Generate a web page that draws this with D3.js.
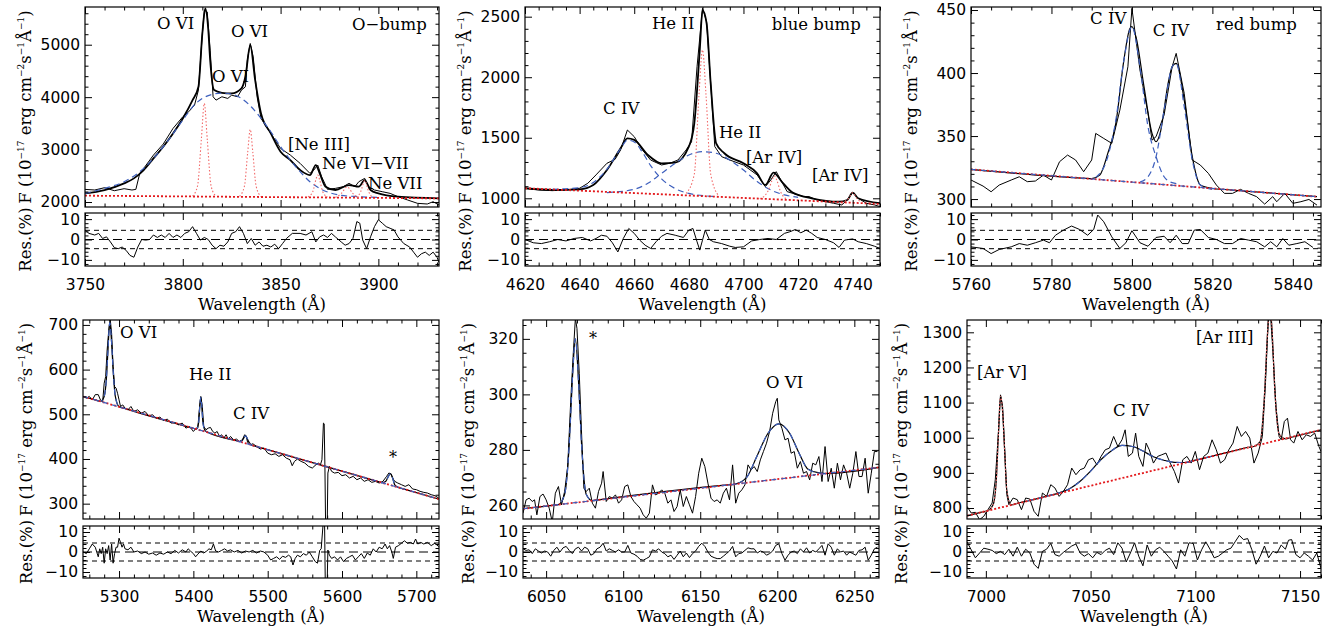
<!DOCTYPE html>
<html>
<head>
<meta charset="utf-8">
<script src="https://cdn.jsdelivr.net/npm/d3@7"></script>
<style>
  body { margin: 0; background: #fff; }
  svg { font-family: "DejaVu Sans", sans-serif; }
  .serif { font-family: "DejaVu Serif", serif; }
</style>
</head>
<body>
<svg id="chart" width="1344" height="635"></svg>
<script>
// ---- panel 1: O-bump ----
const p1Obs = [[3750,2241],[3755,2229],[3760,2273],[3765,2216],[3770,2254],[3774,2229],[3776,2241],[3778,2546],[3780,2641],[3785,2895],[3790,3105],[3795,3403],[3800,3626],[3803,3721],[3806,3848],[3808,4134],[3810,5213],[3811,5658],[3812.5,5626],[3814,4896],[3815.5,4007],[3817,3943],[3820,4007],[3823,3975],[3825,4038],[3828,4007],[3830,4134],[3832,4197],[3833,4705],[3834.5,5023],[3836,4769],[3838,4007],[3840,3594],[3845,3308],[3850,3022],[3855,2895],[3860,2737],[3865,2546],[3867,2610],[3869,2705],[3871,2483],[3874,2241],[3878,2260],[3882,2292],[3885,2356],[3888,2292],[3890,2387],[3893,2451],[3895,2292],[3898,2229],[3902,2197],[3906,2165],[3910,2102],[3915,2038],[3920,1975],[3925,1962],[3928,2006],[3931,1943]];
const p1Fit = [[3750,2165],[3760,2229],[3770,2356],[3775,2451],[3780,2610],[3785,2832],[3790,3054],[3795,3308],[3800,3594],[3805,3943],[3808,4197],[3810,5213],[3811.5,5690],[3813,5300],[3814,4705],[3816,4134],[3820,4083],[3825,4070],[3830,4165],[3832,4388],[3834.5,4990],[3837,4324],[3840,3689],[3845,3308],[3850,2959],[3855,2800],[3860,2610],[3865,2514],[3868,2705],[3870,2546],[3873,2292],[3878,2229],[3885,2324],[3890,2292],[3893,2419],[3896,2229],[3900,2165],[3910,2102],[3931,2070]];
const p1Broad = [[3750,2165],[3760,2260],[3770,2387],[3780,2641],[3790,3054],[3800,3562],[3805,3816],[3810,3975],[3815,4051],[3820,4076],[3825,4057],[3830,3975],[3835,3816],[3840,3594],[3845,3340],[3850,3054],[3855,2800],[3860,2578],[3865,2387],[3870,2260],[3875,2178],[3880,2133],[3890,2102],[3900,2089]];
const p1Cont = [[3750,2121],[3931,2070]];
const p1Narrow1 = [[3805,2115],[3807.5,2300],[3809.5,3200],[3811,3880],[3812.5,3200],[3814.5,2300],[3817,2110]];
const p1Narrow2 = [[3829,2110],[3831.5,2300],[3833.2,2950],[3834.5,3384],[3835.8,2950],[3837.5,2300],[3840,2105]];
const p1Narrow3 = [[3864,2095],[3866.5,2200],[3868,2420],[3869,2514],[3870,2420],[3871.5,2200],[3874,2093]];
const p1Narrow4 = [[3878,2087],[3881,2160],[3884,2290],[3887,2160],[3890,2082]];
const p1Narrow5 = [[3889,2083],[3891,2200],[3893,2410],[3895,2200],[3897,2080]];
const p1Res = [[3750,4.7],[3752,3],[3755,2.2],[3757,3],[3759,0.5],[3761,1.3],[3763,-1.2],[3765,-4],[3767,-4.5],[3769,-3.7],[3771,-5.3],[3773,-7.8],[3775,-8.7],[3777,-3.7],[3779,0],[3781,-0.3],[3783,0],[3785,2.2],[3787,1],[3789,2.2],[3791,1],[3793,3],[3795,1],[3797,2.2],[3799,1],[3801,3],[3803,3.8],[3805,6.3],[3807,3],[3809,-0.3],[3811,1],[3813,0],[3815,-2.8],[3817,-4.5],[3819,-2.8],[3821,-3.3],[3823,-1.2],[3825,3],[3827,3.8],[3829,6.3],[3831,3],[3833,-2],[3835,0.5],[3837,-2.8],[3839,-1.2],[3841,-3.3],[3843,-2.8],[3845,-3.7],[3847,-2.3],[3849,-4.5],[3851,-2],[3853,0.5],[3856,3],[3860,3],[3863,2.2],[3866,3.8],[3868,-1.2],[3870,1.3],[3872,2.2],[3874,1],[3876,3],[3878,1.3],[3881,-1.2],[3883,-2.8],[3885,-2],[3887,0.5],[3889,8.8],[3890.5,8],[3892,-0.3],[3894,-4.5],[3896,1.3],[3898,6.3],[3900,9.7],[3902,8],[3904,6.3],[3906,5.5],[3908,4.7],[3910,1.3],[3913,-2],[3916,-3.7],[3918,-6.2],[3920,-8.7],[3922,-7],[3924,-6.2],[3926,-7.8],[3928,-6.2],[3930,-8.7],[3931,-11.2]];
const p1XTicks = [3750, 3800, 3850, 3900];
const p1YTicks = [2000, 3000, 4000, 5000];
const p1Labels = [["O VI",3786.8,5294],["O VI",3824.6,5142],["O VI",3814.9,4290],["O\u2212bump",3886.5,5275],["[Ne III]",3853.8,2990],["Ne VI\u2212VII",3871.2,2630],["Ne VII",3894.7,2248]];

// ---- panel 2: blue bump ----
const p2Obs = [[4620,1083],[4625,1069],[4630,1063],[4635,1069],[4640,1083],[4643,1124],[4646,1193],[4650,1289],[4653,1322],[4655,1399],[4657.5,1564],[4660,1509],[4663,1399],[4666,1316],[4670,1275],[4673,1289],[4676,1316],[4679,1399],[4681,1468],[4683,2087],[4684.5,2445],[4685,2569],[4686.5,2459],[4688,1949],[4689.5,1427],[4692,1344],[4695,1316],[4700,1275],[4705,1193],[4708,1096],[4710,1151],[4712,1220],[4714,1138],[4716,1055],[4718,1041],[4720,1028],[4722,1014],[4724,1014],[4727,986],[4730,972],[4733,959],[4736,945],[4738,986],[4740,1047],[4742,1000],[4745,959],[4748,945],[4750,931]];
const p2Fit = [[4620,1083],[4630,1069],[4640,1074],[4645,1110],[4650,1234],[4655,1413],[4657.5,1495],[4660,1482],[4665,1358],[4670,1289],[4675,1294],[4680,1427],[4682,1619],[4684,2225],[4685,2555],[4686.5,2445],[4688,1949],[4690,1454],[4693,1372],[4700,1289],[4705,1206],[4708,1110],[4711,1212],[4714,1138],[4718,1047],[4725,1000],[4735,972],[4738,986],[4740,1047],[4742,1000],[4750,959]];
const p2BroadCIV = [[4630,1074],[4640,1088],[4645,1130],[4650,1240],[4655,1410],[4657.5,1480],[4660,1465],[4663,1380],[4666,1270],[4670,1160],[4675,1080],[4680,1040],[4690,1014]];
const p2BroadHeII = [[4650,1047],[4660,1074],[4665,1124],[4670,1206],[4675,1289],[4680,1358],[4685,1385],[4690,1372],[4695,1316],[4700,1234],[4705,1138],[4710,1069],[4715,1028],[4720,1008]];
const p2Cont = [[4620,1083],[4750,953]];
const p2Narrow1 = [[4679,1040],[4682,1200],[4683.7,1850],[4685,2225],[4686.3,1850],[4688,1200],[4691,1018]];
const p2Narrow2 = [[4706,995],[4709,1060],[4710.5,1150],[4711.3,1185],[4712.2,1150],[4713.5,1060],[4716,990]];
const p2Narrow3 = [[4736,962],[4738.5,1000],[4740,1045],[4741.5,1000],[4744,957]];
const p2Res = [[4620,0],[4623,-1.6],[4626,-2],[4629,-1.1],[4632,0],[4635,-0.7],[4638,0.5],[4641,1],[4644,-0.7],[4646,0.5],[4648,2.1],[4650,1.6],[4652,-1.6],[4654,-6.1],[4656,0.5],[4658,5.4],[4660,3],[4662,-0.3],[4664,-2.8],[4666,-4.4],[4668,-1.1],[4670,1.6],[4672,3],[4675,2.1],[4678,1],[4680,4.6],[4681.5,5.4],[4683,-1.1],[4684,-5.2],[4685,-0.3],[4686,4.6],[4687.5,0],[4689,-1.1],[4692,-2],[4695,-3.3],[4697,-3.9],[4700,-3.6],[4703,-0.7],[4706,0],[4709,0.5],[4712,0],[4715,3],[4717,3.8],[4719,4.9],[4721,3.3],[4723,4.6],[4725,3],[4727,1],[4730,0],[4733,-1.6],[4735,-3.9],[4737,-0.3],[4740,0.3],[4742,-1.1],[4745,-2],[4748,-3.3],[4750,-4.4]];
const p2XTicks = [4620, 4640, 4660, 4680, 4700, 4720, 4740];
const p2YTicks = [1000, 1500, 2000, 2500];
const p2Labels = [["He II",4666.5,2398],["blue bump",4710.4,2390],["C IV",4648.6,1696],["He II",4691,1498],["[Ar IV]",4700.9,1291],["[Ar IV]",4725.1,1143]];

// ---- panel 3: red bump ----
const p3Obs = [[5760,315.1],[5763,310.3],[5765,305.8],[5767,311.1],[5770,315.1],[5772,317.7],[5774,313.8],[5776,314.3],[5778,319],[5780,315.1],[5782,329.6],[5784,334.9],[5786,331],[5788,321.7],[5790,331],[5791,352.1],[5793,348.1],[5795,344.2],[5797,370.6],[5799,405],[5800,451.3],[5802,402.4],[5804,368],[5805,346.8],[5806,349.5],[5808,366.7],[5810,405],[5811,415.6],[5813,383.9],[5815,331],[5817,327],[5819,320.4],[5821,311.1],[5823,304.5],[5825,304.5],[5827,307.7],[5829,304.5],[5831,301.9],[5833,296],[5835,301.9],[5836,297.9],[5838,304.5],[5840,296.6],[5842,297.9],[5844,299.7],[5846,295.2]];
const p3Fit = [[5760,323.5],[5788,316.5],[5790,316.2],[5792,319],[5794,336.2],[5796,360],[5798,410.3],[5799.5,435.4],[5800,436.8],[5801,428.8],[5803,389.2],[5805,352.1],[5806,345.5],[5807,352.1],[5809,391.8],[5810,405],[5811,407.7],[5813,378.6],[5815,333.6],[5817,311.1],[5820,308.4],[5823,307.6],[5846,301.9]];
const p3Broad1 = [[5791,317.2],[5794,333.6],[5796,362.7],[5798,410.3],[5800,436.8],[5802,405],[5804,357.4],[5806,333.6],[5808,317.7],[5810,313],[5812,311.9]];
const p3Broad2 = [[5802,313.5],[5804,317.7],[5806,333.6],[5808,370.6],[5810,405],[5811,407.7],[5813,373.3],[5815,331],[5817,311.1],[5820,307.7]];
const p3Cont = [[5760,323.5],[5846,301.9]];
const p3Res = [[5760,-3.6],[5763,-4.4],[5765,-6.9],[5767,-4.9],[5770,-3.6],[5772,-2],[5774,-2.8],[5776,-1.6],[5778,-0.3],[5779.5,-1.6],[5781,2.1],[5783,4.6],[5785,6.6],[5787,4.9],[5789,2.1],[5790.5,4.9],[5791.5,12],[5793,8.7],[5795,1.3],[5797,-4.4],[5798.5,-1.6],[5800,4.3],[5802,-1.6],[5804,-3.3],[5806,1],[5808,1.6],[5809.5,-1.6],[5811,2.1],[5812.5,-2],[5814,-2],[5815.5,4.6],[5817,4.9],[5819,1],[5821,0],[5823,-2],[5825,-2],[5827,0.5],[5829,-0.3],[5831,-1.1],[5833,-3.6],[5834.5,-1.1],[5836,-3.6],[5837.5,0.5],[5839,-2.8],[5841,-2],[5843,-1.1],[5845,-3.9]];
const p3XTicks = [5760, 5780, 5800, 5820, 5840];
const p3YTicks = [300, 350, 400, 450];
const p3Labels = [["C IV",5789.6,438.9],["C IV",5805.2,429.4],["red bump",5820.9,434.2]];

// ---- panel 4 ----
const p4Obs = [[5252,540],[5256,536],[5260,540],[5264,532],[5268,544],[5272,544],[5275,532],[5278,528.7],[5280,569.6],[5282,584.5],[5284,644],[5286,685],[5288,715],[5290,681],[5292,607],[5294,562],[5296,558.5],[5298,547],[5300,532.4],[5302,517.5],[5305,521],[5308,513.8],[5312,510],[5316,517.5],[5320,506.3],[5325,510],[5330,502.6],[5335,506.3],[5340,496.6],[5345,498.9],[5350,491.4],[5355,493.7],[5360,486.2],[5365,489.2],[5370,480.3],[5375,481.8],[5380,476.5],[5385,480.3],[5390,469.1],[5395,472.8],[5400,461.6],[5404,469.1],[5406,469.1],[5408,510],[5410,539.8],[5412,517.5],[5414,472.8],[5417,465.4],[5420,469.1],[5423,470.6],[5426,461.6],[5429,457.9],[5432,461.6],[5435,450.5],[5438,454.2],[5441,446.7],[5444,454.2],[5447,444.5],[5450,450.5],[5454,443],[5458,444.5],[5462,439.3],[5466,443],[5469,454.2],[5471,451.9],[5473,437],[5477,431.8],[5480,434.1],[5485,428.1],[5490,422.2],[5495,424.5],[5500,413.2],[5505,409.5],[5510,411.7],[5515,405.8],[5520,409.5],[5525,402],[5530,398.3],[5533,384.9],[5536,394.6],[5540,399.8],[5545,394.6],[5550,390.9],[5555,383.4],[5560,379.7],[5565,387.2],[5568,390.9],[5571,387.2],[5573,398.3],[5575,480.3],[5576,478.8],[5577,383.4],[5578,240],[5580,240],[5581,368.5],[5583,383.4],[5586,372.3],[5590,368.5],[5595,370],[5600,362.6],[5605,364.8],[5610,357.4],[5615,361.1],[5620,353.6],[5625,357.4],[5630,349.9],[5635,353.6],[5640,347.7],[5645,349.9],[5650,346.2],[5655,349.9],[5660,361.1],[5663,368.5],[5666,367],[5668,357.4],[5671,349.9],[5675,346.2],[5680,342.5],[5685,338.7],[5690,342.5],[5695,332.8],[5700,331.3],[5705,327.6],[5710,325.3],[5715,323.8],[5720,320.1],[5725,317.9],[5730,312.7]];
const p4Fit = [[5252,539.8],[5271,530.7],[5275,528.8],[5280,540],[5283,580],[5285,640],[5287.5,705],[5290,660],[5292,600],[5295,540],[5300,517],[5304,514.8],[5400,468.8],[5404,467],[5407,480],[5409,525],[5410,538],[5411,525],[5413,480],[5416,463],[5420,459.2],[5458,440.9],[5462,439],[5466,442],[5468.5,449],[5470,452],[5471.5,449],[5474,440],[5478,431.3],[5482,429.4],[5650,348.8],[5654,346.9],[5659,350],[5662,360],[5665,367],[5668,358],[5671,342],[5676,336.3],[5680,334.4],[5730,310.4]];
const p4Comp1 = [[5271,530.7],[5275,528.8],[5280,540],[5283,580],[5285,640],[5287.5,705],[5290,660],[5292,600],[5295,540],[5300,517],[5304,514.8]];
const p4Comp2 = [[5400,468.8],[5404,467],[5407,480],[5409,525],[5410,538],[5411,525],[5413,480],[5416,463],[5420,459.2]];
const p4Comp3 = [[5458,440.9],[5462,439],[5466,442],[5468.5,449],[5470,452],[5471.5,449],[5474,440],[5478,431.3],[5482,429.4]];
const p4Comp4 = [[5650,348.8],[5654,346.9],[5659,350],[5662,360],[5665,367],[5668,358],[5671,342],[5676,336.3],[5680,334.4]];
const p4Cont = [[5252,539.8],[5730,310.4]];
const p4Res = [[5252,0],[5256,-0.8],[5260,1.6],[5264,4],[5268,2.4],[5272,-2.4],[5274,1.6],[5276,-0.8],[5278,2.4],[5280,-5.6],[5282,1.6],[5284,-0.8],[5286,3.2],[5288,-4],[5290,4],[5292,-5.6],[5294,-0.8],[5296,2.4],[5298,2.4],[5300,6.9],[5302,4.8],[5304,2.4],[5306,4],[5308,1.6],[5312,1.1],[5316,2.4],[5320,0],[5325,0.5],[5330,-0.8],[5335,0],[5340,-1.1],[5345,-0.5],[5350,-1.6],[5355,-0.5],[5360,-1.1],[5365,0],[5370,-0.8],[5375,0.8],[5380,-0.5],[5385,1.1],[5390,0],[5393,1.6],[5396,0.5],[5400,-0.8],[5403,-2.4],[5406,-1.1],[5410,0.5],[5414,-0.5],[5418,0.5],[5421,1.6],[5424,1.1],[5427,4],[5430,0.5],[5434,0],[5438,0.8],[5442,1.6],[5446,0.5],[5450,1.1],[5455,0],[5460,0.8],[5465,-0.5],[5470,0.5],[5475,0],[5480,0.8],[5485,-0.5],[5490,0.5],[5495,0],[5500,-1.6],[5504,-4],[5508,-3.2],[5512,-2.4],[5516,-3.7],[5520,-2.1],[5524,-2.7],[5528,-1.6],[5531,-2.4],[5534,-6.5],[5537,-3.2],[5540,-1.6],[5544,-2.4],[5548,-0.8],[5552,-1.6],[5556,0],[5560,-2.4],[5564,-4.8],[5567,-5.6],[5570,0.8],[5572,1.6],[5575,16],[5576.5,16],[5577.5,-16],[5580,-16],[5581,1],[5583,-1.6],[5586,-3.2],[5590,-2.4],[5594,-4],[5598,-2.4],[5602,-4.8],[5606,-3.2],[5610,-2.4],[5614,-1.6],[5618,-4],[5622,-2.4],[5626,-0.8],[5630,-3.2],[5634,-0.5],[5638,-1.6],[5642,1.6],[5646,0],[5650,2.4],[5654,1.6],[5658,4],[5661,1.6],[5664,3.2],[5667,0],[5669,-3.2],[5672,2.4],[5676,3.2],[5680,4.4],[5684,5.6],[5688,4.4],[5692,4.8],[5696,4],[5699,6.5],[5702,4],[5706,4.8],[5710,4],[5715,4.8],[5720,3.2],[5725,4.4],[5730,2.7]];
const p4XTicks = [5300, 5400, 5500, 5600, 5700];
const p4YTicks = [300, 400, 500, 600, 700];
const p4Labels = [["O VI",5301.3,670.7],["He II",5394.1,576.7],["C IV",5453.3,489.5]];
const p4Stars = [[5668.6,392]];

// ---- panel 5 ----
const p5Obs = [[6035,257.2],[6037,262],[6039,262.6],[6041,261.4],[6042.5,262],[6044,256.6],[6046,263.2],[6048,264.1],[6050,262],[6052,259],[6054,254],[6056,264.4],[6058,266.8],[6060,260.2],[6062,265],[6064,274],[6066,298],[6067.5,313.6],[6069,327.5],[6070,323.8],[6071.5,307.6],[6073,286],[6074.5,266.2],[6076,265],[6078,266.2],[6080,260.8],[6082,259],[6084,265],[6086,268],[6087,272.2],[6089,261.4],[6091,263.2],[6093,262.6],[6095,263.8],[6097,260.8],[6099,262],[6101,266.8],[6103,267.4],[6105,263.2],[6107,261.4],[6109,260.2],[6111,259],[6113,256.6],[6115,255.4],[6117,257.2],[6119,267.4],[6121,263.8],[6123,264.4],[6125,265.6],[6127,264.4],[6129,260.8],[6131,262],[6133,257.8],[6135,259.6],[6137,265.6],[6139,259.6],[6141,263.2],[6143,260.2],[6145,257.2],[6147,263.2],[6149,271.6],[6151,277],[6153,274],[6155,268],[6157,262.6],[6159,261.4],[6161,262],[6163,260.8],[6165,264.4],[6167,266.2],[6169,262],[6171,274.6],[6173,260.8],[6175,264.4],[6177,265.6],[6179,267.4],[6181,274.6],[6183,272.8],[6185,274],[6187,272.2],[6189,276.4],[6191,279.4],[6193,282.4],[6195,286.6],[6197,293.2],[6199,297.4],[6200,298.6],[6201,290.8],[6203,287.8],[6205,283.6],[6207,284.2],[6209,278.8],[6211,279.4],[6213,273.4],[6215,275.8],[6217,271.6],[6219,272.2],[6221,269.2],[6223,275.2],[6225,274.6],[6227,277.6],[6229,268.6],[6231,281.2],[6233,268.6],[6235,273.4],[6237,266.2],[6239,275.2],[6241,269.2],[6243,274.6],[6245,271.6],[6247,266.2],[6249,271.6],[6251,279.4],[6253,270.4],[6255,270.4],[6257,277],[6259,264.4],[6261,271.6],[6263,279.4],[6265,279.4]];
const p5Fit = [[6035,258.8],[6054,260],[6058,260.3],[6062,264],[6065,282],[6067,305],[6069,320],[6071,305],[6073,282],[6076,264],[6080,261.7],[6084,262],[6168,267.4],[6172,267.6],[6180,270],[6187,278],[6194,286],[6201,289.4],[6208,286],[6214,279],[6220,273],[6228,271.6],[6232,271.5],[6266,273.7]];
const p5Comp1 = [[6054,260],[6058,260.3],[6062,264],[6065,282],[6067,305],[6069,320],[6071,305],[6073,282],[6076,264],[6080,261.7],[6084,262]];
const p5Comp2 = [[6168,267.4],[6172,267.6],[6180,270],[6187,278],[6194,286],[6201,289.4],[6208,286],[6214,279],[6220,273],[6228,271.6],[6232,271.5]];
const p5Cont = [[6035,258.8],[6266,273.7]];
const p5Res = [[6035,1.6],[6037,0.8],[6039,1.1],[6041,-0.8],[6043,1.6],[6045,0.5],[6047,-0.5],[6049,0.5],[6051,0],[6053,-2.1],[6055,0.8],[6057,2.4],[6059,0],[6061,2.1],[6063,2.8],[6065,0.8],[6067,-0.8],[6069,1.6],[6071,2.4],[6073,0.5],[6075,2.4],[6077,1.6],[6079,-1.6],[6081,-0.8],[6083,1.6],[6085,2.4],[6087,4.4],[6089,0.5],[6091,1.6],[6093,0.8],[6095,0],[6097,1.1],[6099,0],[6101,0],[6103,3.3],[6105,-0.5],[6107,-1.1],[6109,-2.1],[6111,-3.7],[6113,-4.1],[6115,-3.3],[6117,-2.4],[6119,1.1],[6121,0.5],[6123,1.6],[6125,0],[6127,-0.8],[6129,-2.4],[6131,-1.6],[6133,-3.7],[6135,-1.6],[6137,0.5],[6139,-2.4],[6141,-0.5],[6143,-2.8],[6145,-0.8],[6147,0.5],[6149,2.8],[6151,4.4],[6153,2.8],[6155,0],[6157,-2.1],[6159,-2.8],[6161,-3.3],[6163,-3.3],[6165,-2.1],[6167,-0.8],[6169,0.5],[6171,2.8],[6173,-2.4],[6175,-0.8],[6177,-0.5],[6179,0.8],[6181,2.1],[6183,1.6],[6185,1.6],[6187,-0.5],[6189,0.5],[6191,0],[6193,-1.6],[6195,-0.8],[6197,0.5],[6199,3.3],[6201,4.1],[6203,-0.8],[6205,-4.1],[6207,-1.6],[6209,0],[6211,0.5],[6213,-0.8],[6215,1.6],[6217,0],[6219,2.1],[6221,-0.5],[6223,0.8],[6225,0],[6227,1.6],[6229,3.3],[6231,-1.6],[6233,4.1],[6235,2.4],[6237,-1.6],[6239,1.6],[6241,0],[6243,0.5],[6245,-1.6],[6247,0],[6249,-0.8],[6251,-1.6],[6253,0.8],[6255,1.1],[6257,2.4],[6259,-4.1],[6261,-1.6],[6263,1.6],[6265,2.4]];
const p5XTicks = [6050, 6100, 6150, 6200, 6250];
const p5YTicks = [260, 280, 300, 320];
const p5Labels = [["O VI",6192.7,302.2]];
const p5Stars = [[6080.4,318.2]];

// ---- panel 6 ----
const p6Obs = [[6991,804.7],[6993,785.8],[6995,787.7],[6997,766.9],[6999,776.3],[7001,795.3],[7003,814.2],[7004.5,880.5],[7006,1013],[7007,1122],[7008,1088.8],[7009,965.7],[7010,837.9],[7011,809.5],[7013,828.4],[7015,823.7],[7017,795.3],[7019,828.4],[7021,825.6],[7023,790.5],[7025,776.3],[7027,842.6],[7029,833.1],[7031,866.3],[7033,856.8],[7035,833.1],[7037,847.3],[7039,866.3],[7041,913.6],[7043,894.7],[7045,908.9],[7047,913.6],[7049,937.3],[7051,942],[7053,923.1],[7055,946.8],[7057,965.7],[7059,970.5],[7061,1003.6],[7063,975.2],[7065,994.1],[7066.5,1022.5],[7068,946.8],[7070,956.3],[7071.5,1013],[7073,946.8],[7075,918.4],[7076.5,984.7],[7078,965.7],[7080,927.8],[7082,946.8],[7084,951.5],[7086,956.3],[7088,927.8],[7090,904.2],[7092,871],[7094,937.3],[7096,946.8],[7098,927.8],[7100,961],[7102,908.9],[7104,946.8],[7106,956.3],[7108,994.1],[7110,965.7],[7112,927.8],[7114,937.3],[7116,965.7],[7118,984.7],[7120,1032],[7122,1003.6],[7124,1017.8],[7126,998.9],[7128,927.8],[7130,956.3],[7132,1003.6],[7133.5,1155],[7135,1360],[7136,1340],[7137,1249.8],[7138.5,1088.8],[7140,1003.6],[7141,994.1],[7142.5,1046.2],[7144,1055.7],[7145.5,994.1],[7147,984.7],[7149,1017.8],[7151,994.1],[7153,1008.3],[7155,1003.6],[7157,1013],[7159,975.2],[7160,961]];
const p6Fit = [[6991,778],[6998,788.1],[7001,792.5],[7003.5,810],[7005,880],[7006,1010],[7007,1118],[7008,1075],[7009,960],[7010,850],[7012,809],[7016,815],[7020,820],[7030,835],[7035,843],[7040,855],[7045,876],[7050,905],[7055,938],[7060,963],[7065,978],[7070,975],[7075,962],[7080,946],[7085,936],[7090,930],[7095,929.5],[7100,936],[7110,950.5],[7120,965],[7125,972.3],[7128,975],[7131,990],[7133,1120],[7134.5,1300],[7135.5,1370],[7136.5,1320],[7138,1130],[7140,1010],[7143,997],[7146,1001.4],[7160,1022.5]];
const p6BroadCIV = [[7020,820],[7030,835],[7035,843],[7040,855],[7045,876],[7050,905],[7055,938],[7060,963],[7065,978],[7070,975],[7075,962],[7080,946],[7085,936],[7090,930],[7095,929.5],[7100,936],[7110,950.5]];
const p6Narrow1 = [[6998,788.1],[7001,792.5],[7003.5,810],[7005,880],[7006,1010],[7007,1118],[7008,1075],[7009,960],[7010,850],[7012,809],[7016,815]];
const p6Narrow2 = [[7125,972.3],[7128,975],[7131,990],[7133,1120],[7134.5,1300],[7135.5,1370],[7136.5,1320],[7138,1130],[7140,1010],[7143,997],[7146,1001.4]];
const p6Cont = [[6991,778],[7160,1022.5]];
const p6Res = [[6991,5.1],[6993,1.1],[6995,-2.9],[6997,-0.5],[6999,1.9],[7001,1.4],[7003,0.8],[7005,-0.8],[7007,0.3],[7009,-1.3],[7011,1.4],[7013,-2.1],[7015,2.4],[7017,-2.1],[7019,1.4],[7021,-0.5],[7023,-6.1],[7025,-8.2],[7027,0.3],[7029,1.4],[7031,4.3],[7033,-1.3],[7035,-2.1],[7037,-0.2],[7039,1.4],[7041,3],[7043,4],[7045,-0.5],[7047,-2.1],[7049,-0.8],[7051,-2.9],[7053,-0.2],[7055,-1.3],[7057,0.8],[7059,1.9],[7061,-1.3],[7063,4.6],[7065,1.9],[7067,-5],[7069,-0.5],[7071,4.6],[7073,-2.1],[7075,-6.9],[7077,3.5],[7079,-2.1],[7081,1.1],[7083,2.4],[7085,0.3],[7087,-2.1],[7089,-4.5],[7091,-8.5],[7093,1.1],[7095,-2.1],[7097,4.6],[7099,4.3],[7101,-4],[7103,1.1],[7105,5.1],[7107,1.4],[7109,-2.9],[7111,-2.1],[7113,-0.5],[7115,1.1],[7117,1.9],[7119,5.1],[7121,8.3],[7123,6.2],[7125,6.7],[7127,1.1],[7129,-6.1],[7131,-2.1],[7133,3],[7135,-2.9],[7137,0.3],[7139,-0.5],[7141,3.5],[7143,1.4],[7144.5,5.9],[7146,6.2],[7148,-1.3],[7150,-2.9],[7152,-0.5],[7154,-2.1],[7156,-4],[7158,-0.5],[7160,-8.2]];
const p6XTicks = [7000, 7050, 7100, 7150];
const p6YTicks = [800, 900, 1000, 1100, 1200, 1300];
const p6Labels = [["[Ar V]",6995.8,1170],["C IV",7060.7,1061.8],["[Ar III]",7100.3,1269.5]];

// residual panels (shared)
const resTicks = [-10, 0, 10];
const resLevels = [-4.5, 0, 4.5];

const BLUE = "#3d5fbd", RED = "#e3191c", PINK = "#f26b6b";

const panels = [
  { obs: p1Obs, fit: p1Fit, broad: [p1Broad], cont: p1Cont, contBlue: false, narrow: [p1Narrow1, p1Narrow2, p1Narrow3, p1Narrow4, p1Narrow5], res: p1Res,
    xTicks: p1XTicks, yTicks: p1YTicks, labels: p1Labels, stars: [], xDom: [3750, 3931], yDom: [1905, 5719], xMinor: 10, yMinor: 200,
    x0: 85, x1: 439, top: 7, bot: 207, rTop: 213, rBot: 266, labX: 31, fitW: 1.8 },
  { obs: p2Obs, fit: p2Fit, broad: [p2BroadCIV, p2BroadHeII], cont: p2Cont, contBlue: false, narrow: [p2Narrow1, p2Narrow2, p2Narrow3], res: p2Res,
    xTicks: p2XTicks, yTicks: p2YTicks, labels: p2Labels, stars: [], xDom: [4620, 4750], yDom: [928, 2580], xMinor: 5, yMinor: 100,
    x0: 525, x1: 880, top: 7, bot: 207, rTop: 213, rBot: 266, labX: 471, fitW: 1.8 },
  { obs: p3Obs, fit: p3Fit, broad: [p3Broad1, p3Broad2], cont: p3Cont, contBlue: true, narrow: [], res: p3Res,
    xTicks: p3XTicks, yTicks: p3YTicks, labels: p3Labels, stars: [], xDom: [5760, 5847], yDom: [293.7, 452.4], xMinor: 5, yMinor: 10,
    x0: 971, x1: 1321, top: 7, bot: 207, rTop: 213, rBot: 266, labX: 917, fitW: 1.2 },
  { obs: p4Obs, fit: p4Fit, broad: [p4Comp1, p4Comp2, p4Comp3, p4Comp4], cont: p4Cont, contBlue: true, narrow: [], res: p4Res,
    xTicks: p4XTicks, yTicks: p4YTicks, labels: p4Labels, stars: p4Stars, xDom: [5251.5, 5730.5], yDom: [265.7, 711], xMinor: 20, yMinor: 20,
    x0: 83, x1: 439, top: 320, bot: 519, rTop: 526, rBot: 578, labX: 32, fitW: 1.2 },
  { obs: p5Obs, fit: p5Fit, broad: [p5Comp1, p5Comp2], cont: p5Cont, contBlue: true, narrow: [], res: p5Res,
    xTicks: p5XTicks, yTicks: p5YTicks, labels: p5Labels, stars: p5Stars, xDom: [6035, 6266], yDom: [255.1, 326.8], xMinor: 10, yMinor: 5,
    x0: 523, x1: 879, top: 320, bot: 519, rTop: 526, rBot: 578, labX: 474, fitW: 1.2 },
  { obs: p6Obs, fit: p6Fit, broad: [p6BroadCIV], cont: p6Cont, contBlue: false, narrow: [p6Narrow1, p6Narrow2], res: p6Res,
    xTicks: p6XTicks, yTicks: p6YTicks, labels: p6Labels, stars: [], xDom: [6991, 7160], yDom: [768.7, 1335], xMinor: 10, yMinor: 20,
    x0: 967, x1: 1321, top: 320, bot: 519, rTop: 526, rBot: 578, labX: 907, fitW: 1.2 }
];

const svg = d3.select("#chart");
const defs = svg.append("defs");

function minorValues(dom, step, major) {
  const lo = Math.min(dom[0], dom[1]), hi = Math.max(dom[0], dom[1]);
  return d3.range(Math.ceil(lo / step) * step, hi + 1e-9, step)
    .filter(v => !major.some(m => Math.abs(m - v) < 1e-6));
}

// IDL-like frame: inward ticks on all four sides
function frame(g, x, y, xMajor, xMinor, yMajor, yMinor, x0, x1, top, bot, showX, yFmt) {
  const fix = sel => sel.call(s => s.select(".domain").remove())
    .attr("font-family", null).attr("font-size", 15.5);
  const yMin = minorValues(y.domain(), yMinor, yMajor);
  const xMin = minorValues(x.domain(), xMinor, xMajor);
  const fg = g.append("g");

  fg.append("g").attr("transform", `translate(${x0},0)`)
    .call(d3.axisLeft(y).tickValues(yMajor).tickSize(-7).tickPadding(5).tickFormat(yFmt)).call(fix);
  fg.append("g").attr("transform", `translate(${x0},0)`)
    .call(d3.axisLeft(y).tickValues(yMin).tickSize(-3.5).tickFormat("")).call(fix);
  fg.append("g").attr("transform", `translate(${x1},0)`)
    .call(d3.axisRight(y).tickValues(yMajor).tickSize(-7).tickFormat("")).call(fix);
  fg.append("g").attr("transform", `translate(${x1},0)`)
    .call(d3.axisRight(y).tickValues(yMin).tickSize(-3.5).tickFormat("")).call(fix);

  fg.append("g").attr("transform", `translate(0,${top})`)
    .call(d3.axisTop(x).tickValues(xMajor).tickSize(-7).tickFormat("")).call(fix);
  fg.append("g").attr("transform", `translate(0,${top})`)
    .call(d3.axisTop(x).tickValues(xMin).tickSize(-3.5).tickFormat("")).call(fix);
  fg.append("g").attr("transform", `translate(0,${bot})`)
    .call(d3.axisBottom(x).tickValues(xMajor).tickSize(-7).tickPadding(13)
      .tickFormat(showX ? d3.format("d") : "")).call(fix);
  fg.append("g").attr("transform", `translate(0,${bot})`)
    .call(d3.axisBottom(x).tickValues(xMin).tickSize(-3.5).tickFormat("")).call(fix);

  fg.selectAll(".tick line").attr("stroke", "#000").attr("stroke-width", 1);
  fg.selectAll(".tick text").attr("fill", "#000");
  fg.selectAll(".tick text").filter(function () { return !this.textContent; }).remove();

  fg.append("rect").attr("x", x0).attr("y", top).attr("width", x1 - x0).attr("height", bot - top)
    .attr("fill", "none").attr("stroke", "#000").attr("stroke-width", 1.2);
}

function yTitle(g, lx, cy, parts) {
  const t = g.append("text").attr("class", "serif")
    .attr("transform", `translate(${lx},${cy}) rotate(-90)`)
    .attr("text-anchor", "middle").attr("font-size", 16.5).attr("fill", "#000");
  let shift = 0;
  parts.forEach(([s, sup]) => {
    const ts = t.append("tspan").text(s);
    if (sup) {
      ts.attr("font-size", 9).attr("dy", -7 - shift);
      shift = -7;
    } else {
      if (shift) ts.attr("dy", -shift);
      shift = 0;
    }
  });
}

panels.forEach((p, i) => {
  const g = svg.append("g");
  const x = d3.scaleLinear().domain(p.xDom).range([p.x0, p.x1]);
  const y = d3.scaleLinear().domain(p.yDom).range([p.bot, p.top]);
  const yr = d3.scaleLinear().domain([-13, 13]).range([p.rBot, p.rTop]);

  defs.append("clipPath").attr("id", `cm${i}`).append("rect")
    .attr("x", p.x0).attr("y", p.top).attr("width", p.x1 - p.x0).attr("height", p.bot - p.top);
  defs.append("clipPath").attr("id", `cr${i}`).append("rect")
    .attr("x", p.x0).attr("y", p.rTop).attr("width", p.x1 - p.x0).attr("height", p.rBot - p.rTop);

  const lin = d3.line().x(d => x(d[0])).y(d => y(d[1]));
  const smooth = d3.line().x(d => x(d[0])).y(d => y(d[1])).curve(d3.curveMonotoneX);
  const resLine = d3.line().x(d => x(d[0])).y(d => yr(d[1]));

  const main = g.append("g").attr("clip-path", `url(#cm${i})`);

  main.append("path").attr("d", lin(p.obs))
    .attr("fill", "none").attr("stroke", "#000").attr("stroke-width", 1);
  main.append("path").attr("d", smooth(p.fit))
    .attr("fill", "none").attr("stroke", "#000").attr("stroke-width", p.fitW);

  main.selectAll(".broad").data(p.broad).enter().append("path").attr("class", "broad")
    .attr("d", d => smooth(d))
    .attr("fill", "none").attr("stroke", BLUE).attr("stroke-width", 1.2).attr("stroke-dasharray", "6,4");

  main.append("path").attr("d", lin(p.cont))
    .attr("fill", "none").attr("stroke", RED).attr("stroke-width", 1.8).attr("stroke-dasharray", "2,2");
  if (p.contBlue) {
    main.append("path").attr("d", lin(p.cont))
      .attr("fill", "none").attr("stroke", BLUE).attr("stroke-width", 1.2).attr("stroke-dasharray", "5,5");
  }

  main.selectAll(".narrow").data(p.narrow).enter().append("path").attr("class", "narrow")
    .attr("d", d => smooth(d))
    .attr("fill", "none").attr("stroke", PINK).attr("stroke-width", 1.1).attr("stroke-dasharray", "1.5,2");

  // annotations
  g.selectAll(".lab").data(p.labels).enter().append("text").attr("class", "lab serif")
    .attr("x", d => x(d[1])).attr("y", d => y(d[2]))
    .attr("font-size", 16.5).attr("fill", "#000").text(d => d[0]);
  g.selectAll(".star").data(p.stars).enter().append("text").attr("class", "star serif")
    .attr("x", d => x(d[0])).attr("y", d => y(d[1]))
    .attr("text-anchor", "middle").attr("font-size", 16).attr("fill", "#000").text("*");

  // residuals
  const rg = g.append("g").attr("clip-path", `url(#cr${i})`);
  rg.selectAll(".lvl").data(resLevels).enter().append("line").attr("class", "lvl")
    .attr("x1", p.x0).attr("x2", p.x1).attr("y1", d => yr(d)).attr("y2", d => yr(d))
    .attr("stroke", "#000").attr("stroke-width", 1)
    .attr("stroke-dasharray", d => d === 0 ? "9,5" : "5,4");
  rg.append("path").attr("d", resLine(p.res))
    .attr("fill", "none").attr("stroke", "#000").attr("stroke-width", 1);

  frame(g, x, y, p.xTicks, p.xMinor, p.yTicks, p.yMinor, p.x0, p.x1, p.top, p.bot, false, d3.format("d"));
  frame(g, x, yr, p.xTicks, p.xMinor, resTicks, 2, p.x0, p.x1, p.rTop, p.rBot, true, d3.format("d"));

  yTitle(g, p.labX, (p.top + p.bot) / 2,
    [["F (10"], ["\u221217", true], [" erg cm"], ["\u22122", true], ["s"], ["\u22121", true], ["\u00c5"], ["\u22121", true], [")"]]);
  yTitle(g, p.labX, (p.rTop + p.rBot) / 2, [["Res.(%)"]]);

  g.append("text").attr("class", "serif").attr("x", (p.x0 + p.x1) / 2).attr("y", p.rBot + 44)
    .attr("text-anchor", "middle").attr("font-size", 16.5).attr("fill", "#000")
    .text("Wavelength (\u00c5)");
});
</script>
</body>
</html>
